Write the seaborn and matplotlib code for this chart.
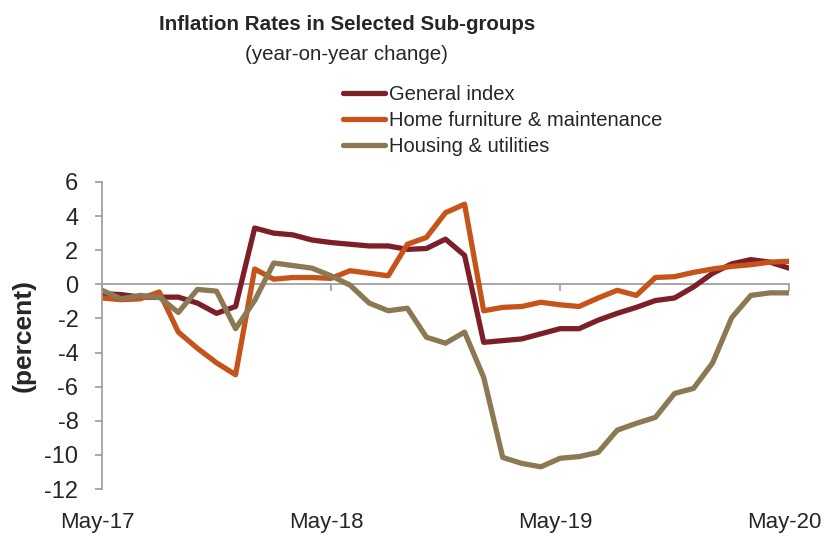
import matplotlib
matplotlib.use("Agg")
import matplotlib.pyplot as plt
import matplotlib.transforms as mtransforms
import seaborn as sns
import pandas as pd
import numpy as np

# ---- data (monthly, May-17 .. May-20) ----
months = list(range(37))
tick_positions = [0, 12, 24, 36]
tick_labels = ["May-17", "May-18", "May-19", "May-20"]

general_index = [-0.55, -0.6, -0.75, -0.75, -0.75, -1.1, -1.7, -1.3, 3.3, 3.0,
                 2.9, 2.6, 2.45, 2.35, 2.25, 2.25, 2.05, 2.1, 2.65, 1.7,
                 -3.4, -3.3, -3.2, -2.9, -2.6, -2.6, -2.1, -1.7, -1.35, -0.95,
                 -0.8, -0.15, 0.65, 1.2, 1.45, 1.3, 0.95]
home_furniture = [-0.8, -0.9, -0.85, -0.45, -2.8, -3.75, -4.6, -5.3, 0.9, 0.3,
                  0.4, 0.4, 0.35, 0.8, 0.65, 0.5, 2.35, 2.75, 4.2, 4.7,
                  -1.55, -1.35, -1.3, -1.05, -1.2, -1.3, -0.8, -0.35, -0.65, 0.4,
                  0.45, 0.7, 0.9, 1.05, 1.15, 1.3, 1.35]
housing_utilities = [-0.35, -0.85, -0.65, -0.75, -1.65, -0.3, -0.4, -2.6, -0.95, 1.25,
                     1.1, 0.95, 0.5, -0.05, -1.1, -1.55, -1.4, -3.1, -3.45, -2.8,
                     -5.45, -10.15, -10.5, -10.7, -10.2, -10.1, -9.85, -8.55, -8.15, -7.8,
                     -6.4, -6.1, -4.6, -1.95, -0.65, -0.5, -0.5]

series_names = ["General index", "Home furniture & maintenance", "Housing & utilities"]
colors = ["#7D1F28", "#C6541A", "#8C7853"]
y_ticks = list(range(-12, 7, 2))

df = pd.DataFrame({
    "month": months * 3,
    "value": general_index + home_furniture + housing_utilities,
    "series": [series_names[0]] * 37 + [series_names[1]] * 37 + [series_names[2]] * 37,
})

sns.set_theme(style="white")
plt.rcParams["font.family"] = ["Liberation Sans", "DejaVu Sans"]
plt.rcParams["axes.unicode_minus"] = False

fig = plt.figure(figsize=(8.36, 5.36), dpi=100)
ax = fig.add_axes([102 / 836, 1 - 489 / 536, 687 / 836, 307 / 536])

sns.lineplot(data=df, x="month", y="value", hue="series", hue_order=series_names,
             palette=colors, linewidth=3.8, ax=ax, legend=False)
for ln in ax.get_lines():
    ln.set_solid_capstyle("round")
    ln.set_solid_joinstyle("round")

ax.set_xlim(0, 36)
ax.set_ylim(-12, 6)
ax.set_yticks(y_ticks)
ax.set_yticklabels([str(v) for v in y_ticks], fontsize=17)
ax.set_xlabel("")
ax.set_ylabel("(percent)", fontsize=19, fontweight="bold", labelpad=6)

spine_color = "#A0A0A0"
for s in ["top", "right"]:
    ax.spines[s].set_visible(False)
ax.spines["left"].set_color(spine_color)
ax.spines["left"].set_linewidth(1.3)
ax.spines["bottom"].set_color(spine_color)
ax.spines["bottom"].set_linewidth(1.3)
ax.spines["bottom"].set_position(("data", 0))
ax.spines["bottom"].set_zorder(0)

ax.tick_params(axis="y", direction="out", length=5, width=1.3, color=spine_color,
               pad=12, left=True)
ax.set_xticks(tick_positions)
ax.set_xticklabels([""] * len(tick_positions))
ax.tick_params(axis="x", direction="out", length=5, width=1.3, color=spine_color,
               bottom=True)

# category labels along the bottom of the plot area
trans = ax.get_xaxis_transform() + mtransforms.ScaledTranslation(-5 / 100, 0, fig.dpi_scale_trans)
for pos, lab in zip(tick_positions, tick_labels):
    ax.text(pos, -0.108, lab, transform=trans, ha="center", va="center",
            fontsize=16, clip_on=False)

# titles
fig.text(347 / 836, 1 - 24 / 536, "Inflation Rates in Selected Sub-groups",
         ha="center", va="center", fontsize=14.8, fontweight="bold")
fig.text(346 / 836, 1 - 54 / 536, "(year-on-year change)",
         ha="center", va="center", fontsize=14.8)

handles = ax.get_lines()[:3]
fig.legend(handles, series_names, loc="upper left",
           bbox_to_anchor=(343 / 836, 1 - 85 / 536), frameon=False,
           fontsize=14.5, handlelength=2.1, handletextpad=0.2,
           labelspacing=0.36, borderpad=0, borderaxespad=0)

fig.savefig("out.png", dpi=100, facecolor="white")
